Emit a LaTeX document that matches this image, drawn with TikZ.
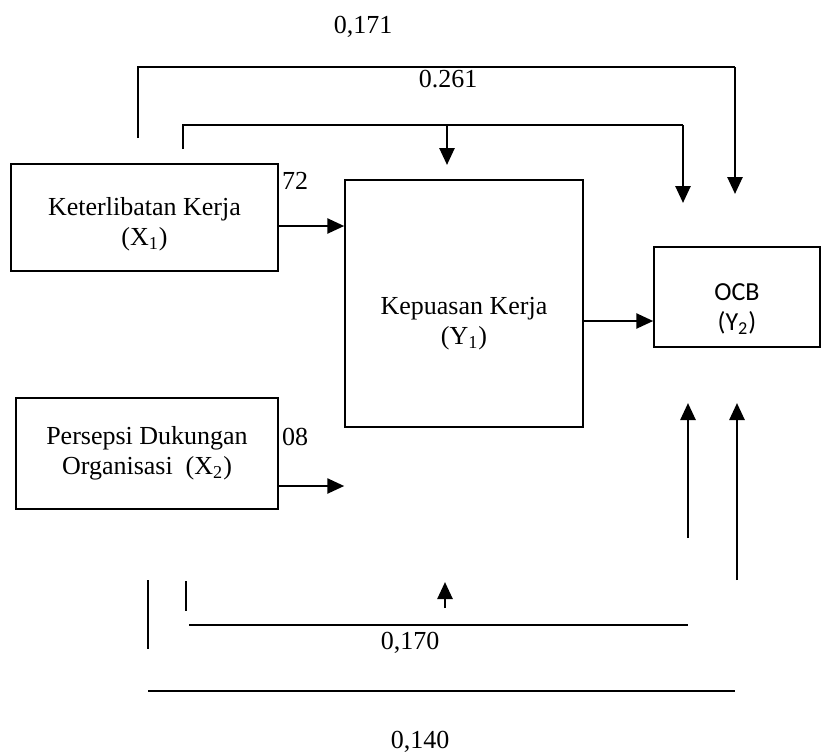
\documentclass[tikz,border=0pt]{standalone}
\usepackage{fontspec}
\setmainfont{Liberation Serif}
\newfontfamily\ocbfont{Carlito}
\usetikzlibrary{arrows.meta,positioning}

\begin{document}
\begin{tikzpicture}[x=0.5pt,y=-0.5pt,font=\fontsize{13}{15}\selectfont,box/.style={draw,line width=0.75pt,align=center,inner sep=0pt},arr/.style={-{Triangle[length=8.5pt,width=7.5pt]},line width=1.3pt},ln/.style={line width=0.8pt},num/.style={inner sep=0pt}]
\useasboundingbox (0,0) rectangle (821,756);
% boxes
\node[box,minimum width=133.5pt,minimum height=53.5pt,label={[name=x1txt,align=center,yshift=-3.5pt]center:Keterlibatan Kerja\\(X\textsubscript{1})}] (x1) at (144.5,217.5) {};
\node[box,minimum width=131pt,minimum height=55.5pt] (x2) at (147,453.5) {Persepsi Dukungan\\Organisasi~~(X\textsubscript{2})};
\node[box,minimum width=119pt,minimum height=123.5pt,label={[name=y1txt,align=center,yshift=-10.25pt]center:Kepuasan Kerja\\(Y\textsubscript{1})}] (y1) at (464,303.5) {};
\node[box,minimum width=83pt,minimum height=50pt,label={[name=y2txt,align=center,yshift=-6pt,font=\ocbfont\fontsize{13}{15}\selectfont]center:OCB\\(Y\textsubscript{2})}] (y2) at (737,297) {};
% direct paths
\draw[arr] ([yshift=-4.25pt]x1.east) -- ([yshift=-4.25pt]x1.east -| y1.west);
\draw[arr] ([yshift=-16.25pt]x2.east) -- ([yshift=-16.25pt]x2.east -| y1.west);
\draw[arr] ([yshift=-8.75pt]y1.east) -- ([yshift=-8.75pt]y1.east -| y2.west);
% top lines
\coordinate (o1s) at (138,138);\coordinate (o1t) at (735,67);\coordinate (o1e) at (735,194);
\coordinate (i1s) at (183,149);\coordinate (i1t) at (683,125);\coordinate (i1e) at (683,203);
\coordinate (i1m) at (447,125);\coordinate (i1d) at (447,165);
\draw[ln] (o1s) |- (o1t);\draw[arr] (o1t) -- (o1e);
\draw[ln] (i1s) |- (i1t);\draw[arr] (i1t) -- (i1e);
\draw[arr] (i1m) -- (i1d);
% bottom lines
\coordinate (o2a) at (148,580);\coordinate (o2b) at (148,649);
\coordinate (o2l) at (148,691);\coordinate (o2r) at (735,691);
\coordinate (o2s) at (737,580);\coordinate (o2e) at (737,403);
\coordinate (i2a) at (186,581);\coordinate (i2b) at (186,611);
\coordinate (i2l) at (189,625);\coordinate (i2r) at (688,625);
\coordinate (i2s) at (688,538);\coordinate (i2e) at (688,403);
\coordinate (i2m) at (445,608);\coordinate (i2n) at (445,582);
\draw[ln] (o2a) -- (o2b);\draw[ln] (o2l) -- (o2r);\draw[arr] (o2s) -- (o2e);
\draw[ln] (i2a) -- (i2b);\draw[ln] (i2l) -- (i2r);\draw[arr] (i2s) -- (i2e);
\draw[arr] (i2m) -- (i2n);
% coefficients
\node[num] (c171) at (363,27) {0,171};
\node[num] (c261) at (448,79) {0.261};
\node[num] (c72) at (295,181) {72};
\node[num] (c08) at (295,437) {08};
\node[num] (c170) at (410,643) {0,170};
\node[num] (c140) at (420,742) {0,140};
\end{tikzpicture}
\end{document}
